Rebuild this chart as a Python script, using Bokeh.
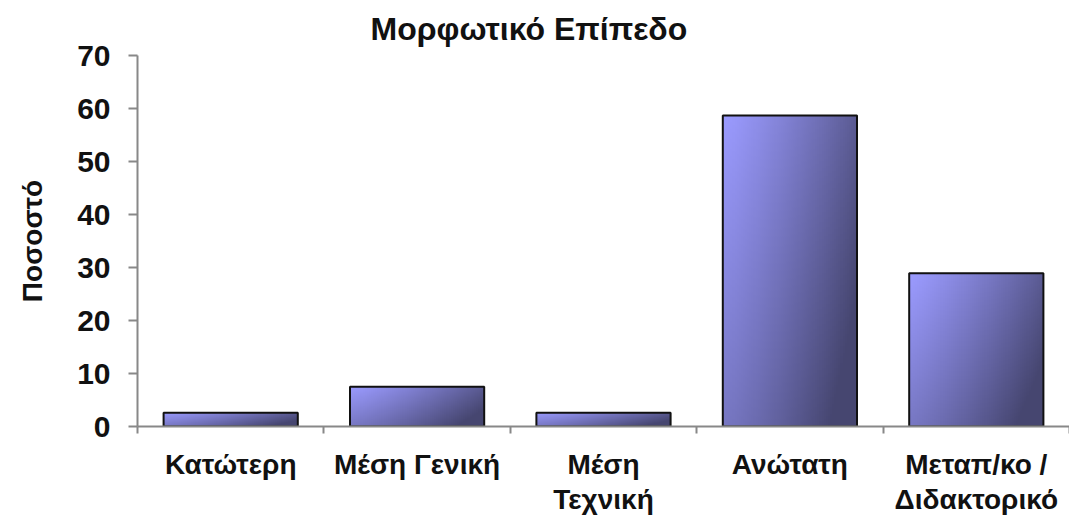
import numpy as np
from bokeh.plotting import figure
from bokeh.models import FixedTicker, Range1d
from bokeh.embed import file_html
from bokeh.resources import INLINE

# Education level distribution (percent of respondents)
categories = ["Κατώτερη", "Μέση Γενική", "Μέση\nΤεχνική", "Ανώτατη", "Μεταπ/κο /\nΔιδακτορικό"]
values = [2.6, 7.5, 2.6, 58.7, 28.9]
y_ticks = [0, 10, 20, 30, 40, 50, 60, 70]

FONT = "Liberation Sans"
BAR_W = 0.72

centers = [i + 0.5 for i in range(len(categories))]
bounds = list(range(len(categories) + 1))

p = figure(width=1069, height=518, output_backend="svg", toolbar_location=None,
           x_range=Range1d(0, len(categories)), y_range=Range1d(0, 70),
           min_border_left=137, min_border_right=0, min_border_top=54,
           min_border_bottom=91)

p.title.text = "Μορφωτικό Επίπεδο"
p.title.align = "left"
p.title.offset = 233
p.title.standoff = 17
p.title.text_font = FONT
p.title.text_font_size = "32px"
p.title.text_font_style = "bold"
p.title.text_color = "#111111"

p.outline_line_color = None
p.grid.grid_line_color = None
p.background_fill_color = "white"
p.border_fill_color = "white"


def gradient(rows=128, cols=64):
    # light periwinkle at the top-left fading to slate at the bottom-right
    light = np.array([155, 155, 255], dtype=float)
    dark = np.array([70, 70, 112], dtype=float)
    v, u = np.mgrid[0:rows, 0:cols]
    u = u / (cols - 1)
    v = v / (rows - 1)
    t = np.clip(0.75 * u ** 1.2 + 0.42 * (1 - v), 0, 1)
    rgb = light[None, None, :] * (1 - t[..., None]) + dark[None, None, :] * t[..., None]
    img = np.empty((rows, cols), dtype=np.uint32)
    view = img.view(dtype=np.uint8).reshape((rows, cols, 4))
    view[..., 0] = rgb[..., 0].astype(np.uint8)
    view[..., 1] = rgb[..., 1].astype(np.uint8)
    view[..., 2] = rgb[..., 2].astype(np.uint8)
    view[..., 3] = 255
    return img


grad = gradient()
p.image_rgba(image=[grad] * len(values),
             x=[c - BAR_W / 2 for c in centers], y=[0] * len(values),
             dw=[BAR_W] * len(values), dh=values)
p.vbar(x=centers, top=values, bottom=0, width=BAR_W,
       fill_color=None, line_color="#111111", line_width=2)

# y axis
ya = p.yaxis[0]
ya.ticker = FixedTicker(ticks=y_ticks)
ya.axis_label = "Ποσοστό"
ya.axis_label_text_font = FONT
ya.axis_label_text_font_size = "28px"
ya.axis_label_text_font_style = "bold"
ya.axis_label_text_color = "#111111"
ya.axis_label_standoff = 26
ya.major_label_text_font = FONT
ya.major_label_text_font_size = "30px"
ya.major_label_text_font_style = "bold"
ya.major_label_text_color = "#111111"
ya.major_label_standoff = 18
ya.axis_line_color = "#888888"
ya.axis_line_width = 2
ya.major_tick_line_color = "#888888"
ya.major_tick_line_width = 2
ya.major_tick_out = 9
ya.major_tick_in = 0
ya.minor_tick_line_color = None

# x axis: labels at bar centres, tick marks at category boundaries
xa = p.xaxis[0]
xa.ticker = FixedTicker(ticks=centers, minor_ticks=bounds)
xa.major_label_overrides = {c: lab for c, lab in zip(centers, categories)}
xa.major_label_text_font = FONT
xa.major_label_text_font_size = "28px"
xa.major_label_text_font_style = "bold"
xa.major_label_text_color = "#111111"
xa.major_label_text_line_height = 1.15
xa.major_label_standoff = 15
xa.major_tick_line_color = None
xa.axis_line_color = "#888888"
xa.axis_line_width = 2
xa.minor_tick_line_color = "#888888"
xa.minor_tick_line_width = 2
xa.minor_tick_out = 7
xa.minor_tick_in = 0

open("out.html", "w").write(file_html(p, INLINE))
